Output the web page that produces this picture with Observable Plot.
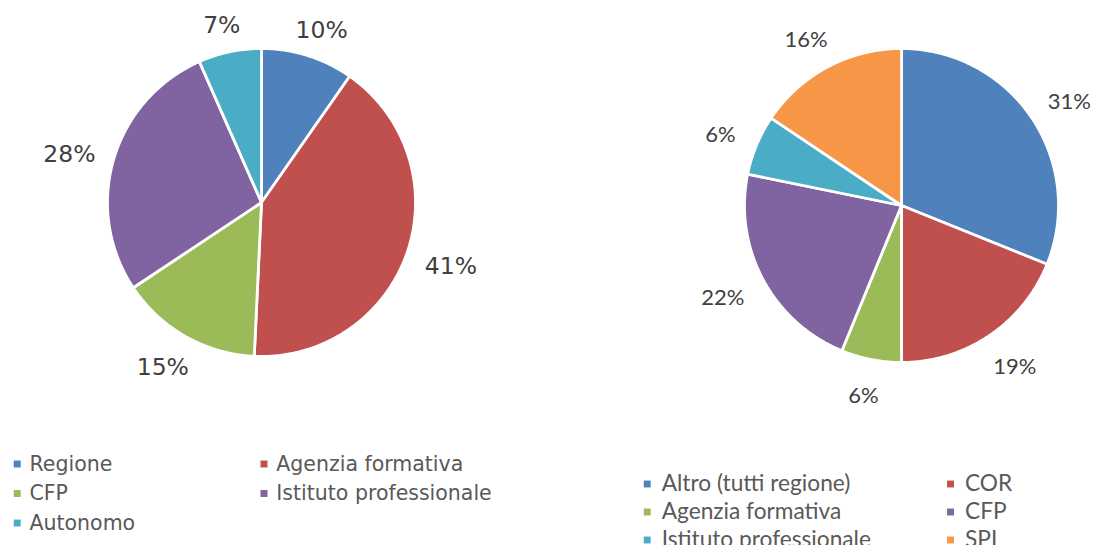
<!DOCTYPE html>
<html><head><meta charset="utf-8">
<script src="https://cdn.jsdelivr.net/npm/d3@7"></script>
<script src="https://cdn.jsdelivr.net/npm/@observablehq/plot@0.6"></script>
<style>body{margin:0;background:#fff}</style>
</head><body><div id="chart"></div>
<script>
// ---- Data (shares) ----
const leftCategories = ["Regione", "Agenzia formativa", "CFP", "Istituto professionale", "Autonomo"];
const leftValues = [9.7, 41.0, 14.9, 27.7, 6.6];
const leftColors = ["#4F81BD", "#C0504D", "#9BBB59", "#8064A2", "#4BACC6"];

const rightCategories = ["Altro (tutti regione)", "COR", "Agenzia formativa", "CFP", "Istituto professionale", "SPI"];
const rightValues = [31.1, 18.9, 6.2, 22.0, 6.2, 15.6];
const rightColors = ["#4F81BD", "#C0504D", "#9BBB59", "#8064A2", "#4BACC6", "#F79646"];

// ---- Layout ----
const W = 1093, H = 545;
const leftPie = {cx: 261, cy: 202, r: 154, gap: 20, font: "DejaVu Sans", size: 23.5, dy: 4};
const rightPie = {cx: 901, cy: 205, r: 157, gap: 24, font: "Lato", size: 22, dy: 3};
const leftLegend = {font: "DejaVu Sans", size: 20.5, cols: [16.7, 263.5], textDx: 12.3, y0: 463.5, step: 29.5};
const rightLegend = {font: "Lato", size: 22.7, cols: [646.7, 950], textDx: 14.5, y0: 483.5, step: 28};

const ctx = document.createElement("canvas").getContext("2d");
function textWidth(t, size, font) { ctx.font = `${size}px "${font}"`; return ctx.measureText(t).width; }

function slices(cats, vals, cols, p) {
  const total = d3.sum(vals);
  let acc = 0;
  return cats.map((c, i) => {
    const a0 = acc / total * 2 * Math.PI; acc += vals[i];
    const a1 = acc / total * 2 * Math.PI;
    return {key: c, color: cols[i], pct: Math.round(vals[i] / total * 100), a0, a1, p};
  });
}

function wedgePoints(sl, tag) {
  const pts = [];
  for (const s of sl) {
    const {cx, cy, r} = s.p;
    const id = tag + s.key;
    pts.push({id, color: s.color, x: cx, y: cy});
    const n = Math.max(2, Math.ceil((s.a1 - s.a0) / 0.01));
    for (let i = 0; i <= n; i++) {
      const a = s.a0 + (s.a1 - s.a0) * i / n;
      pts.push({id, color: s.color, x: cx + r * Math.sin(a), y: cy - r * Math.cos(a)});
    }
  }
  return pts;
}

function labelPoints(sl) {
  return sl.map(s => {
    const {cx, cy, r, gap, font, size, dy} = s.p;
    const a = (s.a0 + s.a1) / 2;
    const text = s.pct + "%";
    const w = textWidth(text, size, font), h = size * 0.9;
    return {
      text,
      x: cx + (r + gap) * Math.sin(a) + (w / 2) * Math.sin(a),
      y: cy - (r + gap) * Math.cos(a) - (h / 2) * Math.cos(a) + dy
    };
  });
}

function legendItems(cats, cols, L) {
  return cats.map((c, i) => ({
    label: c, color: cols[i],
    x: L.cols[i % 2], y: L.y0 + Math.floor(i / 2) * L.step, tx: L.cols[i % 2] + L.textDx
  }));
}

const lS = slices(leftCategories, leftValues, leftColors, leftPie);
const rS = slices(rightCategories, rightValues, rightColors, rightPie);
const lLeg = legendItems(leftCategories, leftColors, leftLegend);
const rLeg = legendItems(rightCategories, rightColors, rightLegend);

const chart = Plot.plot({
  width: W, height: H,
  margin: 0,
  x: {type: "linear", domain: [0, W], range: [0, W], axis: null},
  y: {type: "linear", domain: [0, H], range: [0, H], axis: null},
  color: {type: "identity"},
  style: {background: "#fff", overflow: "hidden"},
  marks: [
    Plot.line(wedgePoints(lS, "L"), {x: "x", y: "y", z: "id", fill: "color", stroke: "#fff", strokeWidth: 2.8, strokeLinejoin: "round", curve: "linear-closed"}),
    Plot.line(wedgePoints(rS, "R"), {x: "x", y: "y", z: "id", fill: "color", stroke: "#fff", strokeWidth: 2.8, strokeLinejoin: "round", curve: "linear-closed"}),
    Plot.text(labelPoints(lS), {x: "x", y: "y", text: "text", fontFamily: leftPie.font, fontSize: leftPie.size, fill: "#404040", textAnchor: "middle", lineAnchor: "middle"}),
    Plot.text(labelPoints(rS), {x: "x", y: "y", text: "text", fontFamily: rightPie.font, fontSize: rightPie.size, fill: "#404040", textAnchor: "middle", lineAnchor: "middle"}),
    Plot.dot(lLeg, {x: "x", y: "y", symbol: "square", r: 3.9, fill: "color", stroke: null}),
    Plot.text(lLeg, {x: "tx", y: "y", text: "label", fontFamily: leftLegend.font, fontSize: leftLegend.size, fill: "#595959", textAnchor: "start", lineAnchor: "middle"}),
    Plot.dot(rLeg, {x: "x", y: "y", symbol: "square", r: 3.9, fill: "color", stroke: null}),
    Plot.text(rLeg, {x: "tx", y: "y", text: "label", fontFamily: rightLegend.font, fontSize: rightLegend.size, fill: "#595959", textAnchor: "start", lineAnchor: "middle"})
  ]
});
document.getElementById("chart").appendChild(chart);
</script>
</body></html>
